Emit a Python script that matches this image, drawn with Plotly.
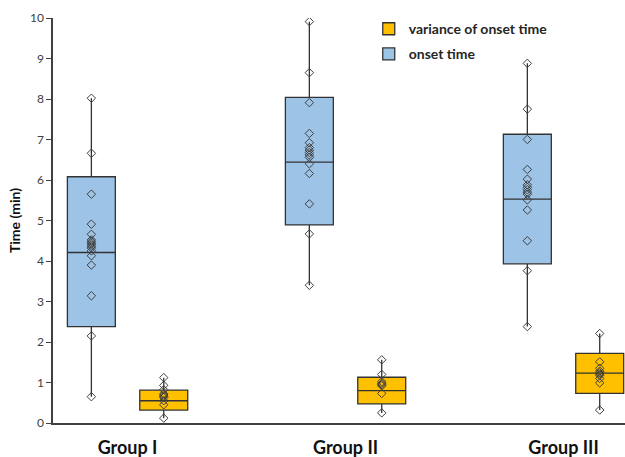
import plotly.graph_objects as go

groups = ["Group I", "Group II", "Group III"]

# onset time box statistics (min)
onset_q1 = [2.38, 4.89, 3.93]
onset_median = [4.21, 6.44, 5.53]
onset_q3 = [6.08, 8.04, 7.13]
onset_low = [0.65, 3.40, 2.38]
onset_high = [8.02, 9.91, 8.88]

# variance of onset time box statistics
var_q1 = [0.32, 0.47, 0.73]
var_median = [0.55, 0.80, 1.23]
var_q3 = [0.81, 1.13, 1.72]
var_low = [0.12, 0.25, 0.32]
var_high = [1.12, 1.56, 2.21]

# individual observations
onset_g1 = [8.02, 6.66, 5.65, 4.91, 4.66, 4.52, 4.48, 4.44, 4.40, 4.36, 4.32, 4.25, 4.13, 3.90, 3.14, 2.15, 0.65]
onset_g2 = [9.91, 8.65, 7.91, 7.15, 6.92, 6.80, 6.74, 6.68, 6.62, 6.56, 6.40, 6.16, 5.41, 4.67, 3.40]
onset_g3 = [8.88, 7.75, 7.00, 6.26, 6.02, 5.88, 5.82, 5.76, 5.70, 5.65, 5.51, 5.26, 4.50, 3.76, 2.38]
var_g1 = [1.12, 0.93, 0.82, 0.72, 0.69, 0.66, 0.63, 0.55, 0.45, 0.12]
var_g2 = [1.56, 1.20, 1.02, 0.98, 0.95, 0.92, 0.73, 0.25]
var_g3 = [2.21, 1.51, 1.35, 1.28, 1.24, 1.21, 1.18, 1.10, 0.99, 0.32]

BLUE = "#9DC3E6"
YELLOW = "#FFC000"
OFF = 0.166
BW = 0.22
FONT = "Lato, Open Sans, sans-serif"

idx = list(range(len(groups)))
x_onset = [i - OFF for i in idx]
x_var = [i + OFF for i in idx]

fig = go.Figure()

fig.add_trace(go.Box(
    name="variance of onset time", x=x_var,
    q1=var_q1, median=var_median, q3=var_q3,
    lowerfence=var_low, upperfence=var_high,
    width=BW, fillcolor=YELLOW, line=dict(color="#333333", width=1.3),
    whiskerwidth=0, boxpoints=False, legendgroup="v",
))
fig.add_trace(go.Box(
    name="onset time", x=x_onset,
    q1=onset_q1, median=onset_median, q3=onset_q3,
    lowerfence=onset_low, upperfence=onset_high,
    width=BW, fillcolor=BLUE, line=dict(color="#333333", width=1.3),
    whiskerwidth=0, boxpoints=False, legendgroup="o",
))

marker = dict(symbol="diamond-open", size=6.5, color="#404040", line=dict(width=1))
for i, vals in enumerate([onset_g1, onset_g2, onset_g3]):
    fig.add_trace(go.Scatter(x=[x_onset[i]] * len(vals), y=vals, mode="markers",
                             marker=marker, showlegend=False, hoverinfo="y"))
for i, vals in enumerate([var_g1, var_g2, var_g3]):
    fig.add_trace(go.Scatter(x=[x_var[i]] * len(vals), y=vals, mode="markers",
                             marker=marker, showlegend=False, hoverinfo="y"))

fig.update_layout(
    width=625, height=457,
    margin=dict(l=53, r=0, t=18, b=34, autoexpand=False),
    paper_bgcolor="white", plot_bgcolor="white",
    font=dict(family=FONT, color="#404040", size=12),
    showlegend=True,
    legend=dict(x=0.552, y=1.012, xanchor="left", yanchor="top",
                font=dict(size=14, color="#262626", family=FONT, weight="bold"),
                tracegroupgap=4, bgcolor="rgba(0,0,0,0)", itemwidth=30),
    xaxis=dict(
        range=[-0.342, 2.282], tickvals=idx, ticktext=groups,
        showgrid=False, zeroline=False, showline=True, linecolor="#404040", linewidth=1.5,
        ticks="", tickfont=dict(size=18, color="#111111", family=FONT, weight="bold"),
        ticklabelstandoff=8, automargin=False,
    ),
    yaxis=dict(
        range=[0, 10], dtick=1, showgrid=False, zeroline=False,
        showline=True, linecolor="#404040", linewidth=1.5,
        ticks="outside", ticklen=5, tickcolor="#404040",
        tickfont=dict(size=12, color="#404040", family=FONT),
        title=dict(text="Time (min)", font=dict(size=14, color="#111111", family=FONT, weight="bold"), standoff=6),
        automargin=False,
    ),
)

fig.write_html("out.html", config={"displayModeBar": False},
               post_script="document.body.style.margin='0';document.body.style.padding='0';")
